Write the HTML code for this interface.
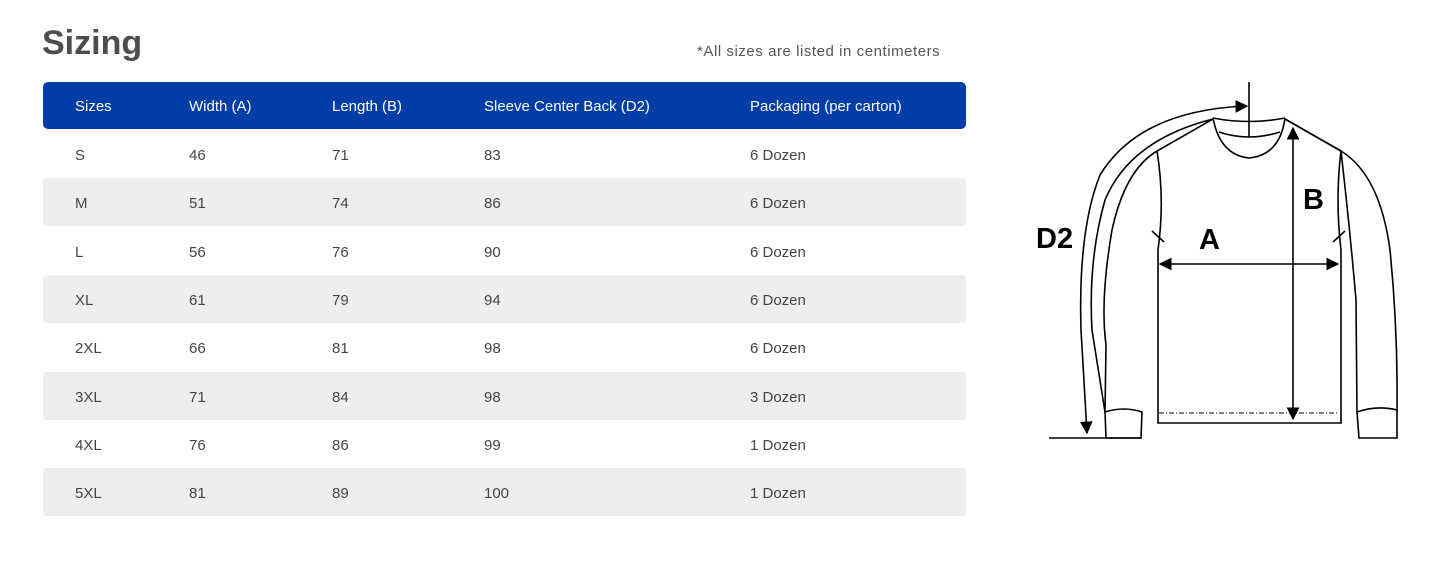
<!DOCTYPE html>
<html><head><meta charset="utf-8"><style>
body{margin:0;width:1445px;height:579px;background:#fff;font-family:"Liberation Sans",sans-serif;position:relative;overflow:hidden}
h1{position:absolute;left:42px;top:24px;margin:0;font-size:34px;font-weight:bold;color:#4d4d4d}
.note{position:absolute;left:697px;top:43px;font-size:15px;color:#555;letter-spacing:0.55px}
.row{position:absolute;left:43px;width:923px;height:48px;font-size:15px;color:#444;border-radius:4px}
.row span{position:absolute;top:17px}
.hd{background:#003da6;color:#fff;top:82px;height:47px;border-radius:5px}
.hd span{top:16px}
.g{background:#efeeef}
</style></head><body>
<h1>Sizing</h1>
<div class="note">*All sizes are listed in centimeters</div>
<div class="row hd"><span style="left:32px">Sizes</span><span style="left:146px">Width (A)</span><span style="left:289px">Length (B)</span><span style="left:441px">Sleeve Center Back (D2)</span><span style="left:707px">Packaging (per carton)</span></div>
<div class="row" style="top:130px"><span style="left:32px">S</span><span style="left:146px">46</span><span style="left:289px">71</span><span style="left:441px">83</span><span style="left:707px">6 Dozen</span></div>
<div class="row g" style="top:178px"><span style="left:32px">M</span><span style="left:146px">51</span><span style="left:289px">74</span><span style="left:441px">86</span><span style="left:707px">6 Dozen</span></div>
<div class="row" style="top:227px"><span style="left:32px">L</span><span style="left:146px">56</span><span style="left:289px">76</span><span style="left:441px">90</span><span style="left:707px">6 Dozen</span></div>
<div class="row g" style="top:275px"><span style="left:32px">XL</span><span style="left:146px">61</span><span style="left:289px">79</span><span style="left:441px">94</span><span style="left:707px">6 Dozen</span></div>
<div class="row" style="top:323px"><span style="left:32px">2XL</span><span style="left:146px">66</span><span style="left:289px">81</span><span style="left:441px">98</span><span style="left:707px">6 Dozen</span></div>
<div class="row g" style="top:372px"><span style="left:32px">3XL</span><span style="left:146px">71</span><span style="left:289px">84</span><span style="left:441px">98</span><span style="left:707px">3 Dozen</span></div>
<div class="row" style="top:420px"><span style="left:32px">4XL</span><span style="left:146px">76</span><span style="left:289px">86</span><span style="left:441px">99</span><span style="left:707px">1 Dozen</span></div>
<div class="row g" style="top:468px"><span style="left:32px">5XL</span><span style="left:146px">81</span><span style="left:289px">89</span><span style="left:441px">100</span><span style="left:707px">1 Dozen</span></div>
<svg style="position:absolute;left:0;top:0" width="1445" height="579" fill="none" stroke="#000" stroke-width="1.6">
<defs><marker id="ar" viewBox="0 0 10 10" refX="9" refY="5" markerWidth="8" markerHeight="8" orient="auto-start-reverse"><path d="M0,0L10,5L0,10z" fill="#000" stroke="none"/></marker></defs>
<path d="M1213,118 Q1249,125 1285,118"/>
<path d="M1213,118 Q1220,155 1249,158 Q1280,155 1285,118"/>
<path d="M1219,132 Q1249,142 1280,132"/>
<path d="M1213,119 L1157,151 Q1165,200 1158,250 L1158,423 L1341,423 L1341,250 Q1335,200 1341,151 L1285,119"/>
<path d="M1213,119 Q1130,140 1105,200 Q1088,260 1092,330 L1105,412"/>
<path d="M1157,151 Q1125,170 1112,230 Q1100,300 1106,345 L1105,412"/>
<path d="M1105,412 Q1124,406 1142,412 L1141,438 L1106,438 Z"/>
<path d="M1285,119 L1341,151 Q1380,175 1390,250 Q1398,330 1397,412"/>
<path d="M1341,151 Q1350,230 1356,300 L1357,412"/>
<path d="M1357,412 Q1377,405 1397,410 L1397,438 L1359,438 Z"/>
<path d="M1152,231 L1164,242 M1333,242 L1345,231"/>
<path d="M1249,82 L1249,137"/>
<path d="M1087,433 L1081,330 Q1078,230 1100,175 Q1140,110 1247,106" marker-start="url(#ar)" marker-end="url(#ar)"/>
<path d="M1049,438 L1141,438"/>
<path d="M1160,264 L1338,264" marker-start="url(#ar)" marker-end="url(#ar)"/>
<path d="M1293,128 L1293,419" marker-start="url(#ar)" marker-end="url(#ar)"/>
<path d="M1159,413 L1339,413" stroke-width="1" stroke-dasharray="5,2,1,2"/>
</svg>
<div style="position:absolute;left:1036px;top:223px;font-size:29px;font-weight:bold">D2</div>
<div style="position:absolute;left:1199px;top:224px;font-size:29px;font-weight:bold">A</div>
<div style="position:absolute;left:1303px;top:184px;font-size:29px;font-weight:bold">B</div>
</body></html>
